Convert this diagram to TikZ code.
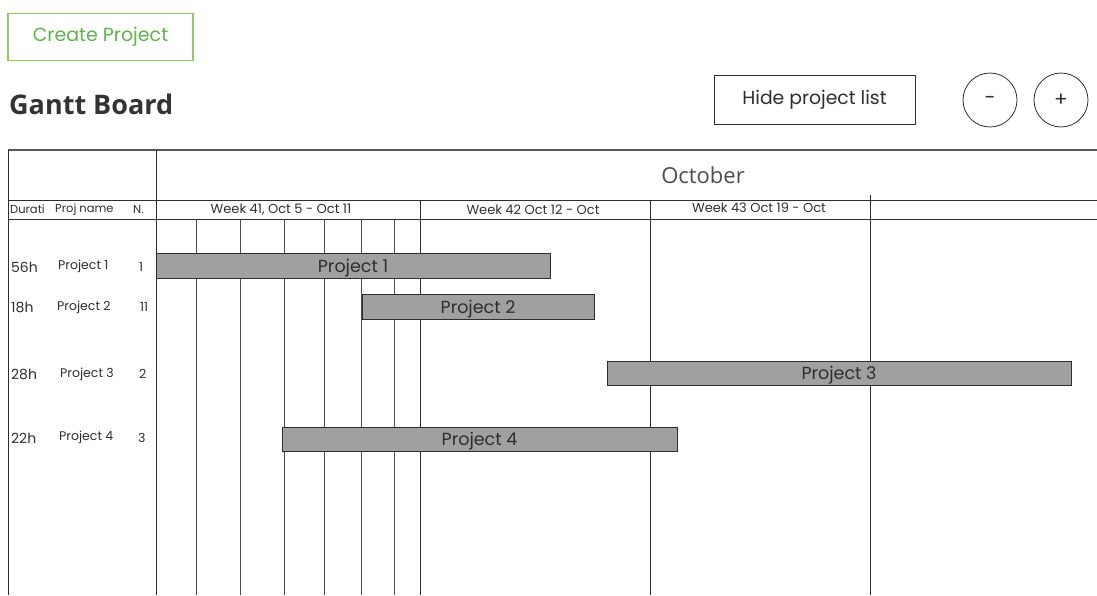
\documentclass[tikz,border=0pt]{standalone}
\usepackage{fontspec}
\setmainfont{Poppins}
\newfontfamily\titlefont{Open Sans}
\definecolor{grn}{HTML}{5DB54A}
\definecolor{grnb}{HTML}{8CCB5E}
\definecolor{barfill}{HTML}{A0A0A0}
\definecolor{ink}{HTML}{2E2E2E}
\definecolor{titlec}{HTML}{333333}
\tikzset{
  grid/.style={draw=ink, line width=0.9pt},
  minor/.style={draw=ink!85, line width=0.7pt},
  bar/.style={draw=ink, line width=1pt, fill=barfill, inner sep=0pt, text depth=0pt, font=\fontsize{17.5}{19}\selectfont, text=ink},
  cell/.style={font=\fontsize{13}{14}\selectfont, text=ink, inner sep=0pt},
  rowlab/.style={font=\fontsize{12.5}{14}\selectfont, text=ink, inner sep=0pt, anchor=west},
  hours/.style={font=\fontsize{14}{16}\selectfont, text=ink, inner sep=0pt, anchor=west},
  btn/.style={draw=ink, line width=1pt, inner sep=0pt, font=\fontsize{18.8}{21}\selectfont, text=ink},
}
\begin{document}
\begin{tikzpicture}[x=1pt,y=-1pt]
\useasboundingbox (0,0) rectangle (1097,595);
% buttons and title
\node[draw=grnb, line width=1.4pt, minimum width=185pt, minimum height=47pt, inner sep=0pt,
      text=grn, font=\fontsize{19}{21}\selectfont] (create) at (100.5,37) {Create Project};
\node[anchor=west, inner sep=0pt, text=titlec, font=\titlefont\bfseries\fontsize{27}{31}\selectfont] (title) at (9,104) {Gantt Board};
\node[btn, minimum width=201pt, minimum height=49pt] (hide) at (814.5,99.5) {Hide project list};
\node[btn, circle, minimum size=54pt, line width=0.8pt, font=\fontsize{20}{22}\selectfont] (minus) at (990,100) {-};
\node[btn, circle, minimum size=54pt, line width=0.8pt, font=\fontsize{20}{22}\selectfont] (plus) at (1061,100) {+};
% table frame
\draw[draw=ink!80, line width=1.6pt] (8,150) -- (1097,150);
\draw[grid] (8,150) -- (8,595);
\draw[grid] (156,150) -- (156,595);
\node[inner sep=0pt, text=ink!85, font=\titlefont\fontsize{22}{26}\selectfont] (oct) at (703,175) {October};
% header row
\draw[grid] (8,200) -- (1097,200);
\draw[grid] (8,219) -- (1097,219);
\draw[grid] (420,200) -- (420,595);
\draw[grid] (650,200) -- (650,595);
\draw[grid] (870,195) -- (870,595);
\node[cell, anchor=west, font=\fontsize{11.5}{13}\selectfont] (h1) at (10,209.5) {Durati};
\node[cell, anchor=west, font=\fontsize{11.5}{13}\selectfont] (h2) at (55,209.5) {Proj name};
\node[cell, anchor=west, font=\fontsize{11.5}{13}\selectfont] (h3) at (133,209.5) {N.};
\node[cell] (w41) at (281,209.5) {Week 41, Oct 5 - Oct 11};
\node[cell] (w42) at (533,209.5) {Week 42 Oct 12 - Oct};
\node[cell] (w43) at (759,208) {Week 43 Oct 19 - Oct};
% minor day lines
\foreach \x in {196,240,284,324,361,394} {\draw[minor] (\x,219) -- (\x,595);}
% row labels
\node[hours] (d1) at (11,267) {56h};
\node[rowlab] (n1) at (58,266) {Project 1};
\node[rowlab] (c1) at (139,267) {1};
\node[hours] (d2) at (11,307) {18h};
\node[rowlab] (n2) at (57,307) {Project 2};
\node[rowlab] (c2) at (140,307) {11};
\node[hours] (d3) at (11,374) {28h};
\node[rowlab] (n3) at (60,374) {Project 3};
\node[rowlab] (c3) at (139,374) {2};
\node[hours] (d4) at (11,438) {22h};
\node[rowlab] (n4) at (59,437) {Project 4};
\node[rowlab] (c4) at (138,438) {3};
% bars
\node[bar, minimum width=394pt, minimum height=25pt] (p1) at (353,265.5) {Project 1};
\node[bar, minimum width=232pt, minimum height=25pt] (p2) at (478,306.5) {Project 2};
\node[bar, minimum width=464pt, minimum height=24pt] (p3) at (839,373) {Project 3};
\node[bar, minimum width=395pt, minimum height=24pt] (p4) at (479.5,439) {Project 4};
\end{tikzpicture}
\end{document}
